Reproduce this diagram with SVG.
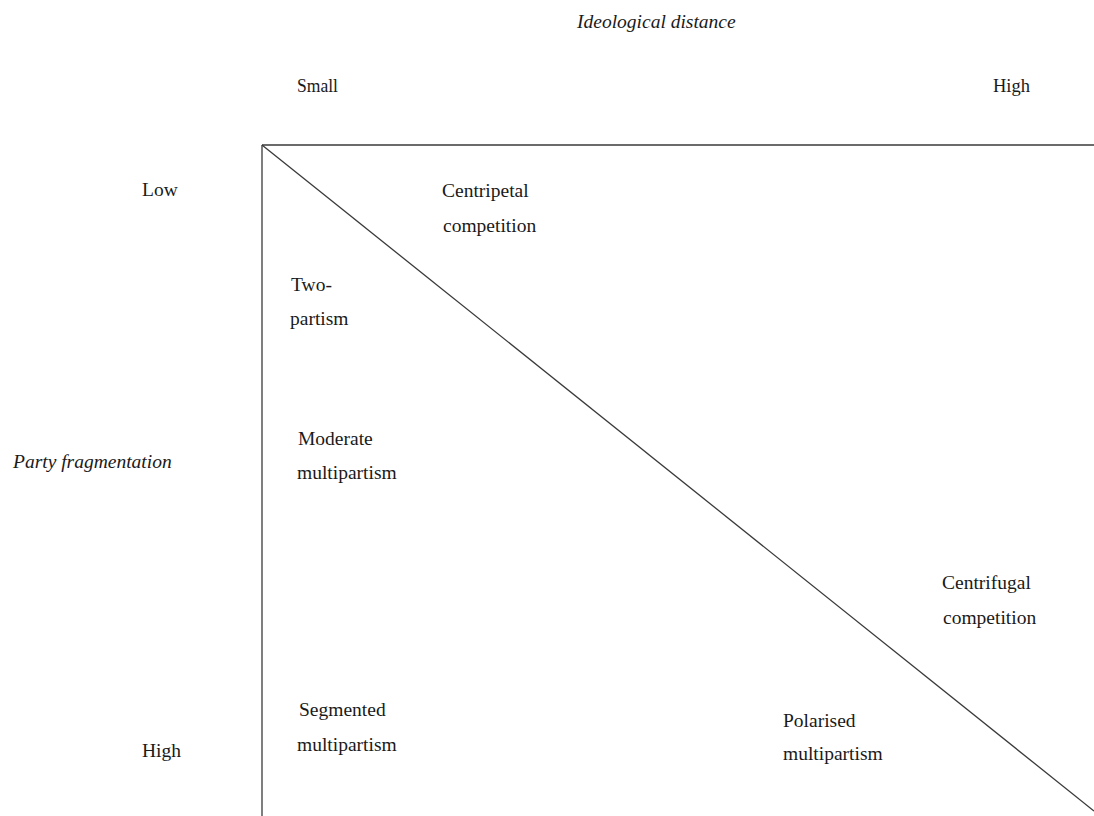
<svg xmlns="http://www.w3.org/2000/svg" width="1094" height="816" viewBox="0 0 1094 816">
<style>
text{font-family:"Liberation Serif","Times New Roman",serif;font-size:19.5px;fill:#1a1a1a}
.it{font-style:italic}
.ln{stroke:#3a3a3a;stroke-width:1.3;fill:none}
</style>
<rect width="1094" height="816" fill="#ffffff"/>
<g id="connectors">
<line class="ln" x1="262" y1="145" x2="1094" y2="145"/>
<line class="ln" x1="262" y1="145" x2="262" y2="816"/>
<line class="ln" x1="262" y1="145" x2="1094" y2="811"/>
</g>
<g id="axis-x-title"><text class="it" x="577" y="28">Ideological distance</text></g>
<g id="axis-x-small"><text x="297" y="92" textLength="41" lengthAdjust="spacingAndGlyphs">Small</text></g>
<g id="axis-x-high"><text x="993" y="92" textLength="37" lengthAdjust="spacingAndGlyphs">High</text></g>
<g id="axis-y-title"><text class="it" x="13" y="468">Party fragmentation</text></g>
<g id="axis-y-low"><text x="142" y="196">Low</text></g>
<g id="axis-y-high"><text x="142" y="757">High</text></g>
<g id="centripetal"><text x="442" y="197">Centripetal</text><text x="443" y="232">competition</text></g>
<g id="two-partism"><text x="291" y="291">Two-</text><text x="290" y="325">partism</text></g>
<g id="moderate"><text x="298" y="445">Moderate</text><text x="297" y="479">multipartism</text></g>
<g id="segmented"><text x="299" y="716">Segmented</text><text x="297" y="751">multipartism</text></g>
<g id="centrifugal"><text x="942" y="589">Centrifugal</text><text x="943" y="624">competition</text></g>
<g id="polarised"><text x="783" y="727">Polarised</text><text x="783" y="760">multipartism</text></g>
</svg>
